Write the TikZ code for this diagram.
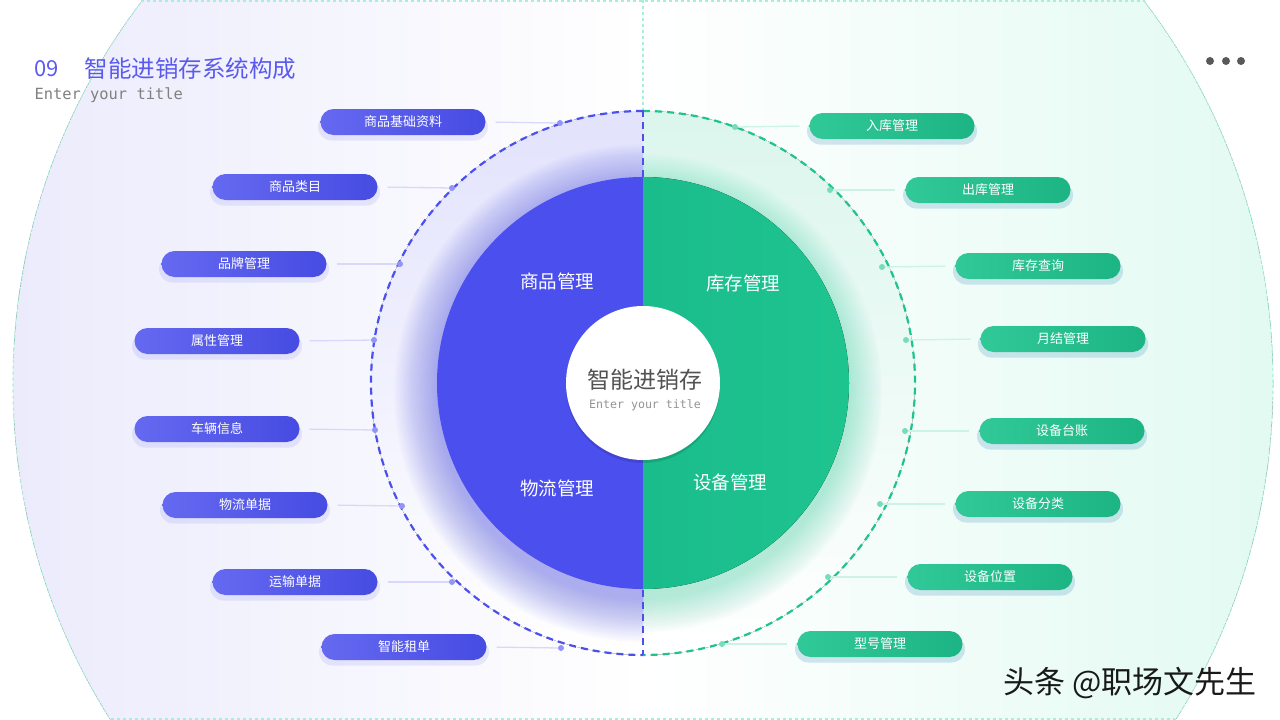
\documentclass[tikz,border=0pt]{standalone}
\usepackage{fontspec}
\setmainfont{Noto Sans CJK SC}
\setmonofont{DejaVu Sans Mono}
\usetikzlibrary{shadows, calc}
\definecolor{segblue}{HTML}{4A4FEE}
\definecolor{seggreen}{HTML}{1EC48E}
\definecolor{lav}{HTML}{EBEBFC}
\definecolor{mint}{HTML}{E2FAF2}
\definecolor{rimcyan}{HTML}{A8EEDA}
\definecolor{ttlblue}{HTML}{5A5AF0}
\tikzset{
  pillL/.style={rounded corners=13pt, minimum width=165pt, minimum height=26pt, inner sep=0pt,
    left color=segblue!85!white, right color=segblue!95!black, text=white,
    font=\fontsize{13}{13}\selectfont,
    drop shadow={shadow xshift=0pt, shadow yshift=-5pt, shadow scale=1.03, fill=segblue, opacity=.11}},
  pillR/.style={pillL, left color=seggreen!92!white, right color=seggreen!92!black,
    drop shadow={shadow xshift=0pt, shadow yshift=-5pt, shadow scale=1.03, fill=seggreen, opacity=.11}},
  dotL/.style={circle, fill=segblue!60, inner sep=0pt, minimum size=6pt},
  dotR/.style={circle, fill=seggreen!60, inner sep=0pt, minimum size=6pt},
  linkL/.style={draw=segblue!22, line width=1.3pt, shorten <=10pt},
  linkR/.style={draw=seggreen!22, line width=1.3pt, shorten >=10pt},
  seglab/.style={text=white, font=\fontsize{18.5}{18.5}\selectfont},
  ring/.style={line width=2.2pt, dash pattern=on 7pt off 5pt}
}

\begin{document}
\begin{tikzpicture}[x=1pt, y=-1pt]
		\useasboundingbox (0,0) rectangle (1280,720);
		\coordinate (c) at (643,383);
		% background
		\begin{scope}
			\clip (0,0) rectangle (1280,720);
			\fill[left color=lav, right color=white] (c) ++(90:630pt) arc[start angle=90, end angle=270, radius=630pt] -- cycle;
			\fill[left color=white, right color=mint] (c) ++(90:630pt) arc[start angle=90, end angle=-90, radius=630pt] -- cycle;
			\draw[rimcyan, dashed, line width=1.2pt] (c) circle[radius=630pt];
			\draw[rimcyan, dashed, line width=1.2pt] (141,1) -- (1145,1);
			\draw[rimcyan, dashed, line width=1.2pt] (111,719) -- (1175,719);
			\draw[rimcyan, dashed, line width=1.2pt] (643,0) -- (643,110);
		\end{scope}
		% dashed ring
		\fill[top color=segblue!16, bottom color=white] (c) ++(90:272pt) arc[start angle=90, end angle=270, radius=272pt] -- cycle;
		\fill[top color=seggreen!16, bottom color=white] (c) ++(90:272pt) arc[start angle=90, end angle=-90, radius=272pt] -- cycle;
		\begin{scope}
			\clip (c) ++(90:272pt) arc[start angle=90, end angle=270, radius=272pt] -- cycle;
			\foreach \r in {207,209,...,249}
				\fill[segblue, opacity=.022] ($(c)+(0,10)$) circle[radius=\r pt];
		\end{scope}
		\begin{scope}
			\clip (c) ++(90:272pt) arc[start angle=90, end angle=-90, radius=272pt] -- cycle;
			\foreach \r in {207,209,...,239}
				\fill[seggreen, opacity=.018] ($(c)+(0,10)$) circle[radius=\r pt];
		\end{scope}
		\draw[ring, segblue] (c) ++(90:272pt) arc[start angle=90, end angle=270, radius=272pt];
		\draw[ring, seggreen] (c) ++(90:272pt) arc[start angle=90, end angle=-90, radius=272pt];
		\draw[ring, segblue] (643,110) -- (643,655);
		% main disk
		\fill[segblue] (c) ++(90:206pt) arc[start angle=90, end angle=270, radius=206pt] -- cycle;
		\fill[left color=seggreen!88!teal, right color=seggreen] (c) ++(90:206pt) arc[start angle=90, end angle=-90, radius=206pt] -- cycle;
		\node[circle, fill=white, minimum size=154pt, inner sep=0pt,
			drop shadow={shadow xshift=0pt, shadow yshift=-3pt, fill=black, opacity=.12}] (hub) at (c) {};
		\node[text=black!68, font=\fontsize{23}{23}\selectfont] (hubt) at (645,380) {智能进销存};
		\node[text=black!42, font=\ttfamily\fontsize{11.6}{11.6}\selectfont] (hubs) at (645,405) {Enter your title};
		\node[seglab] (s1) at (557,281) {商品管理};
		\node[seglab] (s2) at (743,283) {库存管理};
		\node[seglab] (s3) at (557,488) {物流管理};
		\node[seglab] (s4) at (730,482) {设备管理};
		% left items
		\node[pillL] (l1) at (403,122) {商品基础资料};
		\node[pillL] (l2) at (295,187) {商品类目};
		\node[pillL] (l3) at (244,264) {品牌管理};
		\node[pillL] (l4) at (217,341) {属性管理};
		\node[pillL] (l5) at (217,429) {车辆信息};
		\node[pillL] (l6) at (245,505) {物流单据};
		\node[pillL] (l7) at (295,582) {运输单据};
		\node[pillL] (l8) at (404,647) {智能租单};
		\node[dotL] (dl1) at (560,123) {};
		\node[dotL] (dl2) at (452,188) {};
		\node[dotL] (dl3) at (400,264) {};
		\node[dotL] (dl4) at (374,340) {};
		\node[dotL] (dl5) at (375,430) {};
		\node[dotL] (dl6) at (402,506) {};
		\node[dotL] (dl7) at (452,582) {};
		\node[dotL] (dl8) at (561,648) {};
		\draw[linkL] (l1.east) -- (dl1); \draw[linkL] (l2.east) -- (dl2);
		\draw[linkL] (l3.east) -- (dl3); \draw[linkL] (l4.east) -- (dl4);
		\draw[linkL] (l5.east) -- (dl5); \draw[linkL] (l6.east) -- (dl6);
		\draw[linkL] (l7.east) -- (dl7); \draw[linkL] (l8.east) -- (dl8);
		% right items
		\node[pillR] (r1) at (892,126) {入库管理};
		\node[pillR] (r2) at (988,190) {出库管理};
		\node[pillR] (r3) at (1038,266) {库存查询};
		\node[pillR] (r4) at (1063,339) {月结管理};
		\node[pillR] (r5) at (1062,431) {设备台账};
		\node[pillR] (r6) at (1038,504) {设备分类};
		\node[pillR] (r7) at (990,577) {设备位置};
		\node[pillR] (r8) at (880,644) {型号管理};
		\node[dotR] (dr1) at (735,127) {};
		\node[dotR] (dr2) at (830,190) {};
		\node[dotR] (dr3) at (882,267) {};
		\node[dotR] (dr4) at (906,340) {};
		\node[dotR] (dr5) at (905,431) {};
		\node[dotR] (dr6) at (880,504) {};
		\node[dotR] (dr7) at (828,577) {};
		\node[dotR] (dr8) at (722,644) {};
		\draw[linkR] (dr1) -- (r1.west); \draw[linkR] (dr2) -- (r2.west);
		\draw[linkR] (dr3) -- (r3.west); \draw[linkR] (dr4) -- (r4.west);
		\draw[linkR] (dr5) -- (r5.west); \draw[linkR] (dr6) -- (r6.west);
		\draw[linkR] (dr7) -- (r7.west); \draw[linkR] (dr8) -- (r8.west);
		% title
		\node[anchor=west, text=ttlblue, font=\fontsize{22}{22}\selectfont] (num) at (31,69) {09};
		\node[anchor=west, text=ttlblue, font=\fontsize{23.5}{23.5}\selectfont] (ttl) at (81,69) {智能进销存系统构成};
		\node[anchor=west, text=black!50, font=\ttfamily\fontsize{15.4}{15.4}\selectfont] (sub) at (31,95) {Enter your title};
		\foreach \x [count=\i] in {1210,1226,1241}
			\fill[black!65] (\x,61) circle[radius=4pt];
		\node[anchor=east, text=black!90, font=\fontsize{31}{31}\selectfont] (mark) at (1260,683) {头条 @职场文先生};
	\end{tikzpicture}
\end{document}
